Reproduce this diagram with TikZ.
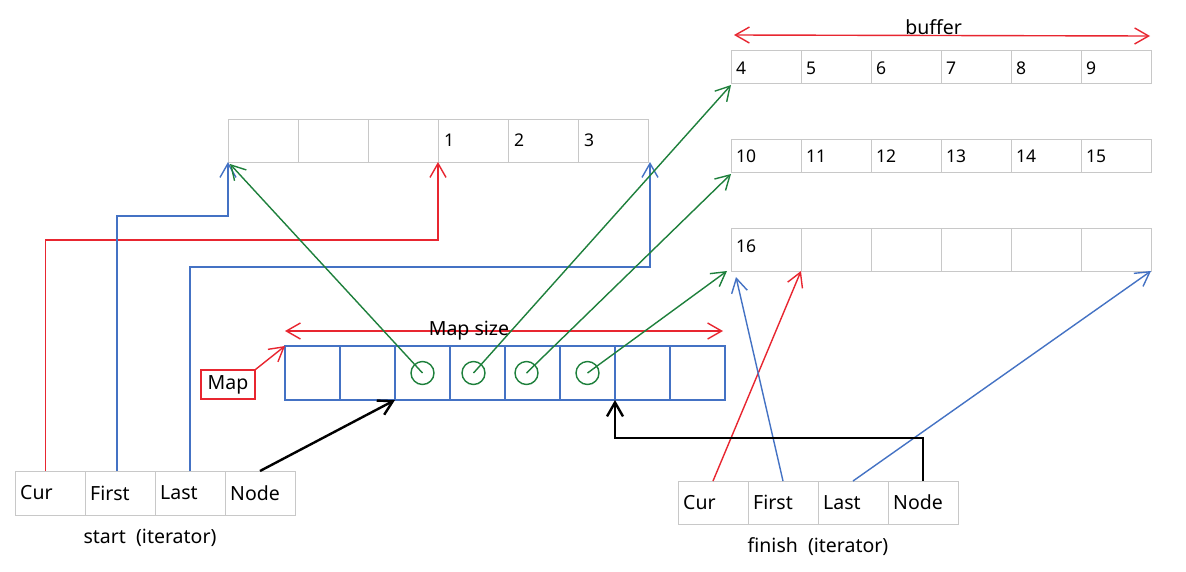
\documentclass[tikz,border=0pt]{standalone}
\usepackage{fontspec}
\setmainfont{Noto Sans}
\usetikzlibrary{arrows.meta}
\definecolor{cred}{RGB}{232,38,48}
\definecolor{cblue}{RGB}{68,114,196}
\definecolor{cgreen}{RGB}{30,128,60}
\definecolor{cgrey}{RGB}{200,200,200}
\begin{document}
\begin{tikzpicture}[x=1pt,y=-1pt,
  font=\fontsize{19.5}{22}\selectfont,
  cell/.style={draw=cgrey, line width=1pt, minimum width=70pt, anchor=north west, inner sep=0pt, outer sep=0pt},
  mcell/.style={draw=cblue, line width=2.4pt, minimum width=55pt, minimum height=54pt, anchor=north west, inner sep=0pt, outer sep=0pt},
  num/.style={anchor=west, inner sep=0pt, font=\fontsize{17.5}{19}\selectfont},
  itxt/.style={anchor=west, inner sep=0pt},
  tip/.style={-{Straight Barb[length=14pt,width=16pt]}},
  rline/.style={draw=cred, line width=1.4pt, tip},
  bline/.style={draw=cblue, line width=1.4pt, tip},
  gline/.style={draw=cgreen, line width=1.4pt, tip},
  kline/.style={draw=black, line width=2.4pt, tip},
  circ/.style={circle, draw=cgreen, line width=1.4pt, minimum size=23pt, inner sep=0pt}
]
\fill[white] (0,0) rectangle (1186,571);
\useasboundingbox (0,0) rectangle (1186,571);

% top-left buffer
\foreach \i in {0,...,5} \node[cell, minimum height=43pt] (L\i) at ({228+70*\i},119) {};
\node[num] at ([xshift=6pt]L3.west) {1};
\node[num] at ([xshift=6pt]L4.west) {2};
\node[num] at ([xshift=6pt]L5.west) {3};

% right buffers
\foreach \i in {0,...,5} \node[cell, minimum height=33pt] (Ba\i) at ({731+70*\i},50) {};
\foreach \i in {0,...,5} \node[cell, minimum height=33pt] (Bb\i) at ({731+70*\i},139) {};
\foreach \i in {0,...,5} \node[cell, minimum height=43pt] (Bc\i) at ({731+70*\i},228) {};
\node[num] at ([shift={(5pt,-2pt)}]Ba0.west) {4};
\node[num] at ([shift={(5pt,-2pt)}]Ba1.west) {5};
\node[num] at ([shift={(5pt,-2pt)}]Ba2.west) {6};
\node[num] at ([shift={(5pt,-2pt)}]Ba3.west) {7};
\node[num] at ([shift={(5pt,-2pt)}]Ba4.west) {8};
\node[num] at ([shift={(5pt,-2pt)}]Ba5.west) {9};
\node[num] at ([shift={(5pt,-1pt)}]Bb0.west) {10};
\node[num] at ([shift={(5pt,-1pt)}]Bb1.west) {11};
\node[num] at ([shift={(5pt,-1pt)}]Bb2.west) {12};
\node[num] at ([shift={(5pt,-1pt)}]Bb3.west) {13};
\node[num] at ([shift={(5pt,-1pt)}]Bb4.west) {14};
\node[num] at ([shift={(5pt,-1pt)}]Bb5.west) {15};
\node[num] at ([shift={(5pt,3pt)}]Bc0.west) {16};

% buffer arrow
\draw[draw=cred, line width=1.4pt, {Straight Barb[length=14pt,width=16pt]}-{Straight Barb[length=14pt,width=16pt]}]
  ([shift={(3pt,15pt)}]Ba0.north west) -- ([shift={(-1pt,14pt)}]Ba5.north east)
  node[pos=0.48, anchor=base, inner sep=0pt, yshift=1pt] (buf) {buffer};

% map
\foreach \i in {0,...,7} \node[mcell] (M\i) at ({285+55*\i},346) {};
\node[circ] (c1) at (M2.center) {};
\node[circ] (c2) at ([xshift=-4pt]M3.center) {};
\node[circ] (c3) at ([xshift=-6pt]M4.center) {};
\node[circ] (c4) at (M5.center) {};
\draw[draw=cred, line width=1.4pt, {Straight Barb[length=14pt,width=16pt]}-{Straight Barb[length=14pt,width=16pt]}]
  ([yshift=15pt]M0.north west) -- ([shift={(-2pt,15pt)}]M7.north east)
  node[pos=0.42, anchor=base, inner sep=0pt, yshift=-4pt] (msz) {Map size};
\node[draw=cred, line width=1.2pt, minimum width=54pt, minimum height=29pt, inner sep=0pt] (maplbl) at (228,384.5) {Map};
\draw[rline] (maplbl.north east) -- (M0.north west);

% start iterator
\node[cell, minimum height=44pt] (sC) at (15,471) {};
\node[cell, minimum height=44pt] (sF) at (85,471) {};
\node[cell, minimum height=44pt] (sL) at (155,471) {};
\node[cell, minimum height=44pt] (sN) at (225,471) {};
\node[itxt] at ([xshift=5pt]sC.west) {Cur};
\node[itxt] at ([xshift=5pt]sF.west) {First};
\node[itxt] at ([xshift=5pt]sL.west) {Last};
\node[itxt] at ([xshift=5pt]sN.west) {Node};
\node[anchor=base, inner sep=0pt] (stlbl) at (150,543) {start\ \ (iterator)};

% finish iterator
\node[cell, minimum height=43pt] (fC) at (678,481) {};
\node[cell, minimum height=43pt] (fF) at (748,481) {};
\node[cell, minimum height=43pt] (fL) at (818,481) {};
\node[cell, minimum height=43pt] (fN) at (888,481) {};
\node[itxt] at ([xshift=5pt]fC.west) {Cur};
\node[itxt] at ([xshift=5pt]fF.west) {First};
\node[itxt] at ([xshift=5pt]fL.west) {Last};
\node[itxt] at ([xshift=5pt]fN.west) {Node};
\node[anchor=base, inner sep=0pt] (filbl) at (818,552) {finish\ \ (iterator)};

% start connectors
\draw[rline] ([xshift=-4.5pt]sC.north) -- ++(0,-231) -| (L3.south west);
\draw[bline] ([xshift=-3pt]sF.north) -- ++(0,-255) -| (L0.south west);
\draw[bline] (sL.north) -- ++(0,-204) -| ([xshift=2pt]L5.south east);
\draw[kline] (sN.north) -- (M2.south west);

% finish connectors
\draw[rline] (fC.north) -- (Bc1.south west);
\draw[bline] (fF.north) -- ([shift={(5pt,-6pt)}]Bc0.south west);
\draw[bline] (fL.north) -- (Bc5.south east);
\draw[kline] (fN.north) -- ++(0,-43) -| (M6.south west);

% green pointers
\draw[gline] (c1.center) -- ([shift={(2pt,-2pt)}]L0.south west);
\draw[gline] (c2.center) -- ([yshift=-2pt]Ba0.south west);
\draw[gline] (c3.center) -- ([yshift=-2pt]Bb0.south west);
\draw[gline] (c4.center) -- ([xshift=-4pt]Bc0.south west);
\end{tikzpicture}
\end{document}
